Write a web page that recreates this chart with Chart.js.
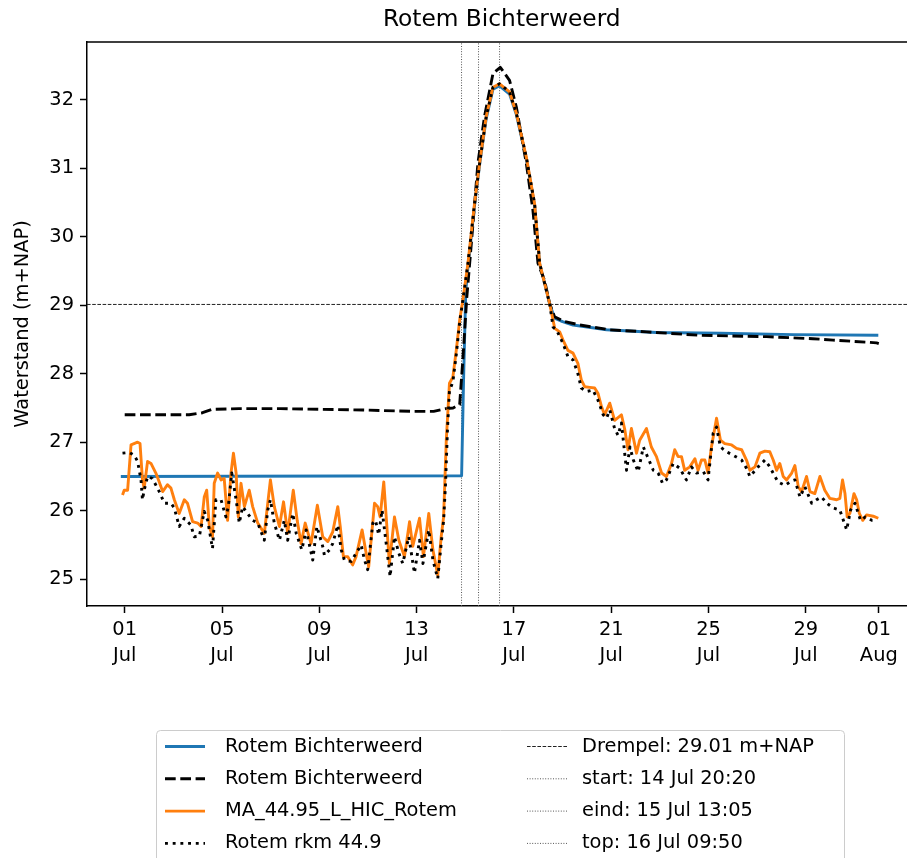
<!DOCTYPE html>
<html>
<head>
<meta charset="utf-8">
<script src="https://cdn.jsdelivr.net/npm/chart.js@4.4.1/dist/chart.umd.min.js"></script>
<style>
  html, body { margin: 0; padding: 0; background: #fff; overflow: hidden; }
  canvas { display: block; }
</style>
</head>
<body>
<canvas id="waterChart" width="920" height="858"></canvas>
<script>
// Time axis: days since 01 Jul 00:00
const xTickDays = [0, 4, 8, 12, 16, 20, 24, 28, 31];
const xTickLabels = [['01', 'Jul'], ['05', 'Jul'], ['09', 'Jul'], ['13', 'Jul'], ['17', 'Jul'],
                     ['21', 'Jul'], ['25', 'Jul'], ['29', 'Jul'], ['01', 'Aug']];
const yTicks = [25, 26, 27, 28, 29, 30, 31, 32];

// Rotem Bichterweerd (model, solid)
const blueT = [-0.16, 13.85, 13.93, 14.02, 14.11, 14.38, 14.59, 14.86, 15.14, 15.41, 15.82, 16.10,
               16.51, 16.85, 17.06, 17.26, 17.47, 17.67, 18.0, 18.43, 19.81, 21.86, 24.5, 27.5, 30.98];
const blueV = [26.50, 26.51, 27.90, 29.20, 29.55, 30.45, 31.05, 31.72, 32.15, 32.20, 32.08, 31.78,
               31.14, 30.46, 29.60, 29.32, 29.02, 28.81, 28.76, 28.71, 28.64, 28.60, 28.59, 28.57, 28.56];

// Rotem Bichterweerd (dashed)
const dashT = [0, 2.65, 3.2, 3.6, 4.7, 6.4, 8.0, 9.8, 11.8, 12.7, 13.2, 13.5, 13.77, 13.9, 14.06,
               14.25, 14.52, 14.79, 15.14, 15.44, 15.82, 16.10, 16.51, 16.78, 16.99, 17.26, 17.47,
               17.67, 18.08, 18.71, 19.94, 21.45, 23.64, 26.39, 28.29, 29.12, 30.91, 31.0];
const dashV = [27.40, 27.40, 27.43, 27.48, 27.49, 27.49, 27.48, 27.47, 27.45, 27.45, 27.49, 27.50,
               27.55, 28.20, 29.10, 29.90, 31.07, 31.75, 32.38, 32.47, 32.28, 31.89, 31.07, 30.39,
               29.61, 29.36, 29.02, 28.83, 28.76, 28.71, 28.64, 28.61, 28.56, 28.54, 28.51, 28.49,
               28.45, 28.44];

// MA_44.95_L_HIC_Rotem
const orangeT = [-0.09, -0.02, 0.12, 0.26, 0.53, 0.63, 0.73, 0.80, 0.94, 1.08,
  1.28, 1.42, 1.56, 1.76, 1.90, 2.04, 2.24, 2.45, 2.58, 2.79,
  3.00, 3.14, 3.27, 3.37, 3.48, 3.61, 3.68, 3.82, 3.96, 4.09,
  4.23, 4.37, 4.47, 4.58, 4.67, 4.78, 4.92, 5.12, 5.26, 5.47,
  5.74, 5.99, 6.15, 6.36, 6.53, 6.70, 6.93, 7.09, 7.25, 7.42,
  7.66, 7.92, 8.14, 8.35, 8.55, 8.76, 8.86, 8.99, 9.17, 9.37,
  9.51, 9.76, 9.90, 10.03, 10.27, 10.40, 10.50, 10.65, 10.75, 10.88,
  11.09, 11.27, 11.50, 11.71, 11.84, 12.12, 12.28, 12.50, 12.67, 12.87,
  13.01, 13.11, 13.22, 13.35, 13.49, 13.63, 13.77, 13.90, 14.11, 14.38,
  14.59, 14.86, 15.14, 15.41, 15.82, 16.10, 16.51, 16.85, 17.06, 17.26,
  17.47, 17.61, 17.68, 17.88, 18.02, 18.22, 18.43, 18.63, 18.77, 18.91,
  19.12, 19.32, 19.46, 19.60, 19.73, 19.94, 20.14, 20.42, 20.56, 20.69,
  20.83, 21.04, 21.17, 21.45, 21.65, 21.86, 22.07, 22.27, 22.48, 22.61,
  22.75, 22.89, 23.02, 23.23, 23.44, 23.57, 23.71, 23.85, 23.98, 24.12,
  24.33, 24.49, 24.67, 24.95, 25.15, 25.36, 25.56, 25.70, 25.91, 26.11,
  26.32, 26.52, 26.66, 26.80, 26.93, 27.07, 27.21, 27.42, 27.55, 27.69,
  27.83, 28.03, 28.17, 28.37, 28.58, 28.78, 28.99, 29.27, 29.40, 29.51,
  29.61, 29.70, 29.81, 29.98, 30.09, 30.20, 30.34, 30.50, 30.77, 30.98];
const orangeV = [26.23, 26.30, 26.30, 26.96, 27.00, 26.98, 26.45, 26.33, 26.72, 26.69,
  26.55, 26.42, 26.28, 26.38, 26.33, 26.16, 25.96, 26.16, 26.11, 25.84,
  25.82, 25.77, 26.20, 26.30, 25.77, 25.62, 26.40, 26.55, 26.45, 26.47,
  25.86, 26.55, 26.84, 26.55, 25.91, 26.40, 26.06, 26.30, 26.06, 25.82,
  25.67, 26.45, 26.06, 25.77, 26.13, 25.67, 26.30, 25.86, 25.52, 25.82,
  25.52, 26.08, 25.62, 25.55, 25.69, 26.06, 25.77, 25.33, 25.33, 25.21,
  25.33, 25.72, 25.43, 25.18, 26.11, 26.06, 25.91, 26.42, 25.91, 25.23,
  25.91, 25.57, 25.33, 25.84, 25.48, 25.89, 25.33, 25.96, 25.43, 25.06,
  25.62, 25.91, 27.03, 27.86, 27.95, 28.34, 28.78, 29.07, 29.61, 30.48,
  31.07, 31.75, 32.18, 32.23, 32.11, 31.80, 31.16, 30.48, 29.61, 29.32,
  29.02, 28.78, 28.66, 28.61, 28.49, 28.34, 28.30, 28.15, 27.91, 27.81,
  27.80, 27.79, 27.71, 27.52, 27.40, 27.57, 27.32, 27.40, 27.18, 26.89,
  27.20, 26.84, 27.03, 27.20, 26.93, 26.79, 26.55, 26.50, 26.69, 26.89,
  26.79, 26.79, 26.59, 26.64, 26.76, 26.59, 26.74, 26.74, 26.55, 26.93,
  27.35, 27.03, 26.98, 26.96, 26.91, 26.89, 26.74, 26.59, 26.64, 26.84,
  26.87, 26.86, 26.74, 26.59, 26.69, 26.50, 26.45, 26.55, 26.66, 26.35,
  26.28, 26.50, 26.28, 26.25, 26.50, 26.30, 26.18, 26.16, 26.18, 26.45,
  26.25, 25.91, 25.96, 26.25, 26.16, 25.96, 25.86, 25.94, 25.92, 25.89];

// Rotem rkm 44.9 (dotted)
const dotT = [-0.09, 0.19, 0.39, 0.53, 0.67, 0.73, 0.80, 0.94, 1.14, 1.42,
  1.63, 1.90, 2.04, 2.24, 2.45, 2.72, 2.86, 3.07, 3.27, 3.41,
  3.55, 3.61, 3.75, 3.96, 4.16, 4.26, 4.40, 4.58, 4.71, 4.85,
  4.99, 5.26, 5.47, 5.74, 5.88, 5.99, 6.15, 6.36, 6.56, 6.70,
  6.91, 7.05, 7.28, 7.46, 7.73, 7.90, 8.14, 8.21, 8.42, 8.55,
  8.76, 8.90, 9.03, 9.31, 9.51, 9.72, 9.86, 9.99, 10.20, 10.31,
  10.44, 10.58, 10.75, 10.91, 11.09, 11.27, 11.43, 11.68, 11.91, 12.12,
  12.26, 12.50, 12.67, 12.87, 13.01, 13.11, 13.19, 13.27, 13.35, 13.49,
  13.63, 13.77, 13.90, 14.11, 14.38, 14.59, 14.86, 15.14, 15.41, 15.82,
  16.10, 16.51, 16.85, 17.06, 17.26, 17.47, 17.61, 17.75, 18.02, 18.22,
  18.43, 18.63, 18.77, 18.98, 19.25, 19.46, 19.67, 19.81, 19.94, 20.14,
  20.28, 20.42, 20.63, 20.77, 20.91, 21.11, 21.32, 21.73, 21.93, 22.11,
  22.27, 22.55, 22.82, 23.09, 23.30, 23.51, 23.79, 23.98, 24.19, 24.33,
  24.49, 24.74, 25.01, 25.36, 25.56, 25.70, 26.04, 26.32, 26.52, 26.73,
  26.86, 27.14, 27.35, 27.55, 27.76, 27.96, 28.24, 28.44, 28.65, 28.86,
  29.13, 29.40, 29.68, 29.84, 30.02, 30.25, 30.45, 30.71, 30.91];
const dotV = [26.84, 26.85, 26.81, 26.72, 26.45, 26.16, 26.30, 26.50, 26.47, 26.28,
  26.11, 26.11, 26.04, 25.77, 25.89, 25.79, 25.62, 25.63, 25.99, 25.86,
  25.57, 25.45, 26.16, 26.16, 25.91, 26.06, 26.55, 26.16, 25.82, 26.06,
  25.99, 25.86, 25.82, 25.57, 26.01, 26.16, 25.82, 25.57, 25.86, 25.57,
  25.96, 25.67, 25.43, 25.72, 25.28, 25.77, 25.48, 25.35, 25.43, 25.52,
  25.79, 25.43, 25.28, 25.26, 25.38, 25.50, 25.28, 25.14, 25.82, 25.86,
  25.65, 26.01, 25.52, 25.04, 25.62, 25.38, 25.23, 25.62, 25.09, 25.57,
  25.23, 25.72, 25.28, 25.01, 25.52, 25.86, 26.40, 27.20, 27.75, 27.88,
  28.28, 28.75, 29.07, 29.61, 30.48, 31.07, 31.75, 32.18, 32.23, 32.11,
  31.80, 31.16, 30.48, 29.61, 29.32, 29.02, 28.68, 28.64, 28.44, 28.25,
  28.20, 28.00, 27.79, 27.74, 27.76, 27.61, 27.40, 27.35, 27.47, 27.20,
  27.10, 27.28, 26.59, 26.93, 26.74, 26.57, 26.93, 26.59, 26.55, 26.40,
  26.45, 26.69, 26.62, 26.45, 26.64, 26.55, 26.57, 26.45, 27.13, 27.22,
  26.93, 26.86, 26.81, 26.74, 26.62, 26.50, 26.64, 26.74, 26.64, 26.50,
  26.42, 26.37, 26.42, 26.45, 26.20, 26.35, 26.11, 26.16, 26.20, 26.11,
  26.04, 26.01, 25.72, 26.01, 26.11, 25.86, 25.91, 25.86, 25.86];

// Threshold and event markers
const drempel = 29.01;
const markerDays = [13.847, 14.545, 15.410];
const markerNames = ['start: 14 Jul 20:20', 'eind: 15 Jul 13:05', 'top: 16 Jul 09:50'];

const X_MIN = -1.55, X_MAX = 32.55, Y_MIN = 24.61, Y_MAX = 32.84;
const FONT = '"DejaVu Sans", sans-serif';
const LW = 2.9;

const pts = (t, v) => t.map((d, i) => ({ x: d, y: v[i] }));

const seriesStyle = (label, data, color, dash, order) => ({
  label, data, borderColor: color, borderWidth: LW, borderDash: dash,
  pointRadius: 0, fill: false, tension: 0, borderCapStyle: 'butt',
  borderJoinStyle: 'round', order
});

const datasets = [
  seriesStyle('Rotem Bichterweerd', pts(blueT, blueV), '#1f77b4', [], 4),
  seriesStyle('Rotem Bichterweerd', pts(dashT, dashV), '#000000', [10.7, 4.6], 3),
  seriesStyle('MA_44.95_L_HIC_Rotem', pts(orangeT, orangeV), '#ff7f0e', [], 2),
  seriesStyle('Rotem rkm 44.9', pts(dotT, dotV), '#000000', [2.9, 4.8], 1),
  {
    label: 'Drempel: ' + drempel.toFixed(2) + ' m+NAP',
    data: [{ x: X_MIN, y: drempel }, { x: X_MAX, y: drempel }],
    borderColor: '#222', borderWidth: 1, borderDash: [3.6, 1.6],
    pointRadius: 0, order: 5
  },
  ...markerDays.map((d, i) => ({
    label: markerNames[i],
    data: [{ x: d, y: Y_MIN }, { x: d, y: Y_MAX }],
    borderColor: '#555', borderWidth: 1, borderDash: [1, 1.6],
    pointRadius: 0, order: 6
  }))
];

// top and right spines
const framePlugin = {
  id: 'frame',
  afterDraw(chart) {
    const { ctx, chartArea: a } = chart;
    ctx.save();
    ctx.strokeStyle = '#000';
    ctx.lineWidth = 1.5;
    ctx.beginPath();
    ctx.moveTo(a.left, a.top);
    ctx.lineTo(a.right, a.top);
    ctx.lineTo(a.right, a.bottom);
    ctx.stroke();
    ctx.restore();
  }
};

// two-column legend below the axes
const legendRows = [[0, 4], [1, 5], [2, 6], [3, 7]];
const legendPlugin = {
  id: 'twoColLegend',
  afterDraw(chart) {
    const ctx = chart.ctx;
    const ds = chart.data.datasets;
    ctx.save();
    ctx.beginPath();
    ctx.roundRect(156.5, 730.5, 688, 150, 4);
    ctx.fillStyle = 'rgba(255,255,255,0.8)';
    ctx.fill();
    ctx.strokeStyle = '#cccccc';
    ctx.lineWidth = 1;
    ctx.stroke();

    const handleX = [165, 527], handleLen = 40, textX = [225, 582];
    ctx.font = '19.4px ' + FONT;
    ctx.textBaseline = 'middle';
    ctx.textAlign = 'left';
    legendRows.forEach((row, r) => {
      const y = 746.5 + r * 32.3;
      row.forEach((idx, c) => {
        const d = ds[idx];
        ctx.beginPath();
        ctx.setLineDash(d.borderDash || []);
        ctx.lineWidth = d.borderWidth;
        ctx.strokeStyle = d.borderColor;
        ctx.lineCap = 'butt';
        ctx.moveTo(handleX[c], y);
        ctx.lineTo(handleX[c] + handleLen, y);
        ctx.stroke();
        ctx.setLineDash([]);
        ctx.fillStyle = '#000';
        ctx.fillText(d.label, textX[c], y);
      });
    });
    ctx.restore();
  }
};

const axisGrid = { drawOnChartArea: false, drawTicks: true, tickLength: 7, tickWidth: 1.5, tickColor: '#000', color: '#000' };
const axisBorder = { display: true, color: '#000', width: 1.5 };

new Chart(document.getElementById('waterChart').getContext('2d'), {
  type: 'line',
  data: { datasets },
  options: {
    responsive: false,
    animation: false,
    devicePixelRatio: 1,
    layout: { padding: { left: 0, right: 3.5, top: 0, bottom: 172 } },
    plugins: {
      legend: { display: false },
      tooltip: { enabled: false },
      title: {
        display: true, text: 'Rotem Bichterweerd', color: '#000', fullSize: false,
        font: { family: FONT, size: 23.3, weight: 'normal', lineHeight: 1.2 },
        padding: { top: 6, bottom: 8 }
      }
    },
    scales: {
      x: {
        type: 'linear', min: X_MIN, max: X_MAX,
        afterBuildTicks: s => { s.ticks = xTickDays.map(v => ({ value: v })); },
        afterFit: s => { s.height = 80; },
        ticks: {
          callback: (v, i) => xTickLabels[i],
          color: '#000', font: { family: FONT, size: 19.4, lineHeight: 1.33 },
          padding: 4, maxRotation: 0, autoSkip: false
        },
        grid: axisGrid, border: axisBorder
      },
      y: {
        min: Y_MIN, max: Y_MAX,
        afterBuildTicks: s => { s.ticks = yTicks.map(v => ({ value: v })); },
        afterFit: s => { s.width = 87; },
        ticks: { callback: v => String(v), color: '#000', font: { family: FONT, size: 19.4 }, padding: 6 },
        title: {
          display: true, text: 'Waterstand (m+NAP)', color: '#000',
          font: { family: FONT, size: 19.4, lineHeight: 1.2 }, padding: { top: 11, bottom: 0 }
        },
        grid: axisGrid, border: axisBorder
      }
    }
  },
  plugins: [framePlugin, legendPlugin]
});
</script>
</body>
</html>
